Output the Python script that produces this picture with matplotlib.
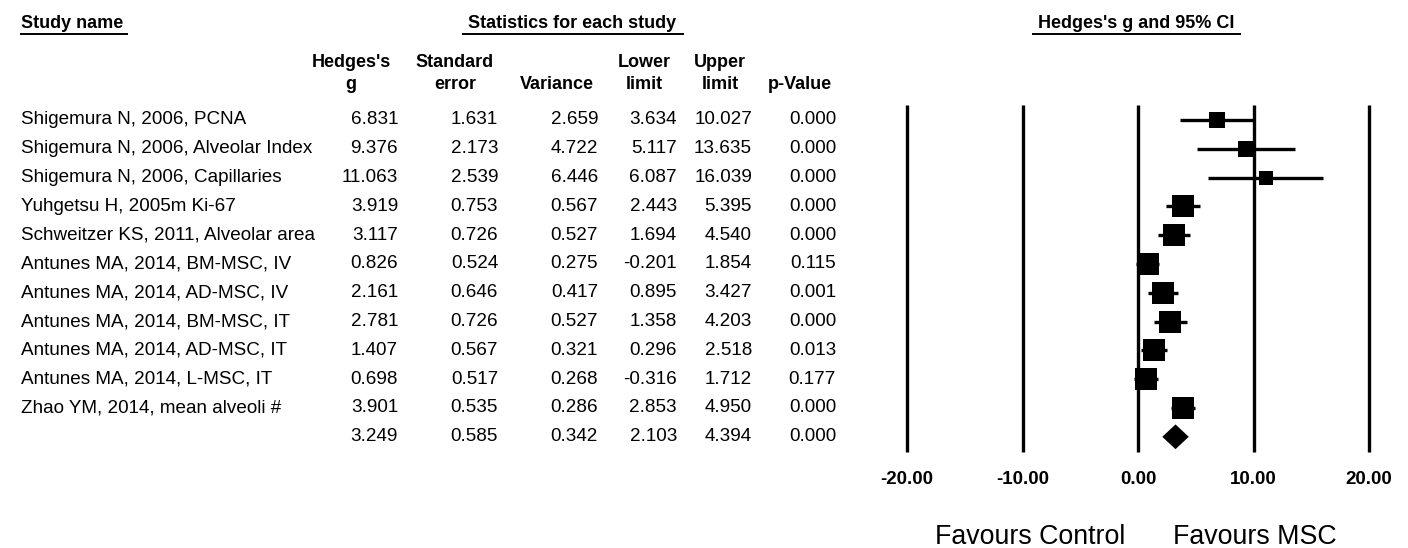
import matplotlib.pyplot as plt
from matplotlib.lines import Line2D
from matplotlib.transforms import blended_transform_factory
import numpy as np

plt.rcParams['font.family'] = ['Liberation Sans', 'DejaVu Sans']

studies = ['Shigemura N, 2006, PCNA',
           'Shigemura N, 2006, Alveolar Index',
           'Shigemura N, 2006, Capillaries',
           'Yuhgetsu H, 2005m Ki-67',
           'Schweitzer KS, 2011, Alveolar area',
           'Antunes MA, 2014, BM-MSC, IV',
           'Antunes MA, 2014, AD-MSC, IV',
           'Antunes MA, 2014, BM-MSC, IT',
           'Antunes MA, 2014, AD-MSC, IT',
           'Antunes MA, 2014, L-MSC, IT',
           'Zhao YM, 2014, mean alveoli #']
g = [6.831, 9.376, 11.063, 3.919, 3.117, 0.826, 2.161, 2.781, 1.407, 0.698, 3.901]
se = [1.631, 2.173, 2.539, 0.753, 0.726, 0.524, 0.646, 0.726, 0.567, 0.517, 0.535]
var = [2.659, 4.722, 6.446, 0.567, 0.527, 0.275, 0.417, 0.527, 0.321, 0.268, 0.286]
lower = [3.634, 5.117, 6.087, 2.443, 1.694, -0.201, 0.895, 1.358, 0.296, -0.316, 2.853]
upper = [10.027, 13.635, 16.039, 5.395, 4.540, 1.854, 3.427, 4.203, 2.518, 1.712, 4.950]
pval = [0.000, 0.000, 0.000, 0.000, 0.000, 0.115, 0.001, 0.000, 0.013, 0.177, 0.000]

# summary (random effects)
sum_g, sum_se, sum_var, sum_lo, sum_hi, sum_p = 3.249, 0.585, 0.342, 2.103, 4.394, 0.000

ticks = [-20, -10, 0, 10, 20]

W, H = 1408, 548
fig = plt.figure(figsize=(W / 100, H / 100), dpi=100)

# forest plot axes, placed in pixel terms
ax_l, ax_r, ax_t, ax_b = 880, 1400, 100, 460
ax = fig.add_axes([ax_l / W, 1 - ax_b / H, (ax_r - ax_l) / W, (ax_b - ax_t) / H])
px_unit = 11.55
x0 = 1138
ax.set_xlim((ax_l - x0) / px_unit, (ax_r - x0) / px_unit)
row_h = 28.8
ax.set_ylim((ax_b - 120) / row_h, (ax_t - 120) / row_h)
for s in ax.spines.values():
    s.set_visible(False)
ax.set_yticks([])
ax.set_xticks(ticks)
ax.set_xticklabels(['%.2f' % t for t in ticks], fontsize=13.5, fontweight='bold')
ax.tick_params(axis='x', length=0, pad=8)

n = len(studies)
ax.vlines(ticks, -0.52, n + 0.53, color='black', lw=2.4)

w = 1 / np.array(var)
side = np.clip(13 + 10 * w, 0, 22.5)
for i in range(n):
    ax.plot([lower[i], upper[i]], [i, i], color='black', lw=2.4, solid_capstyle='butt')
    ax.plot(g[i], i, marker='s', color='black', markersize=side[i] * 0.72, mew=0)

dh = 0.43
ax.fill([sum_lo, sum_g, sum_hi, sum_g], [n, n - dh, n, n + dh], color='black', lw=0)

# table text
tr = blended_transform_factory(fig.transFigure, ax.transData)
fs = 13.6
cols = [g, se, var, lower, upper, pval]
col_right = [398, 498, 598, 677, 752, 836]
for i in range(n):
    fig.text(21 / W, i, studies[i], transform=tr, fontsize=fs, va='center', ha='left')
    for c, xr in zip(cols, col_right):
        fig.text(xr / W, i, '%.3f' % c[i], transform=tr, fontsize=fs, va='center', ha='right')
for v, xr in zip([sum_g, sum_se, sum_var, sum_lo, sum_hi, sum_p], col_right):
    fig.text(xr / W, n, '%.3f' % v, transform=tr, fontsize=fs, va='center', ha='right')

# column headers (two lines each)
hdr = [('Hedges\'s', 'g', 351), ('Standard', 'error', 455), ('', 'Variance', 557),
       ('Lower', 'limit', 644), ('Upper', 'limit', 720), ('', 'p-Value', 800)]
for l1, l2, xc in hdr:
    fig.text(xc / W, 1 - 67 / H, l1, fontsize=13, fontweight='bold', ha='center', va='baseline')
    fig.text(xc / W, 1 - 89 / H, l2, fontsize=13, fontweight='bold', ha='center', va='baseline')

# section titles with underlines
titles = [('Study name', 21, 127), ('Statistics for each study', 468, 683),
          ('Hedges\'s g and 95% CI', 1038, 1240)]
for txt, x1, x2 in titles:
    fig.text(x1 / W, 1 - 28 / H, txt, fontsize=13, fontweight='bold', ha='left', va='baseline')
for txt, x1, x2 in titles:
    ux1 = x1 if txt == 'Study name' else x1 - 5
    fig.add_artist(Line2D([ux1 / W, x2 / W], [1 - 33.5 / H, 1 - 33.5 / H], color='black', lw=1.4))

fig.text(1030 / W, 1 - 544 / H, 'Favours Control', fontsize=19.3, ha='center', va='baseline')
fig.text(1255 / W, 1 - 544 / H, 'Favours MSC', fontsize=19.3, ha='center', va='baseline')

fig.savefig('out.png', dpi=100)
